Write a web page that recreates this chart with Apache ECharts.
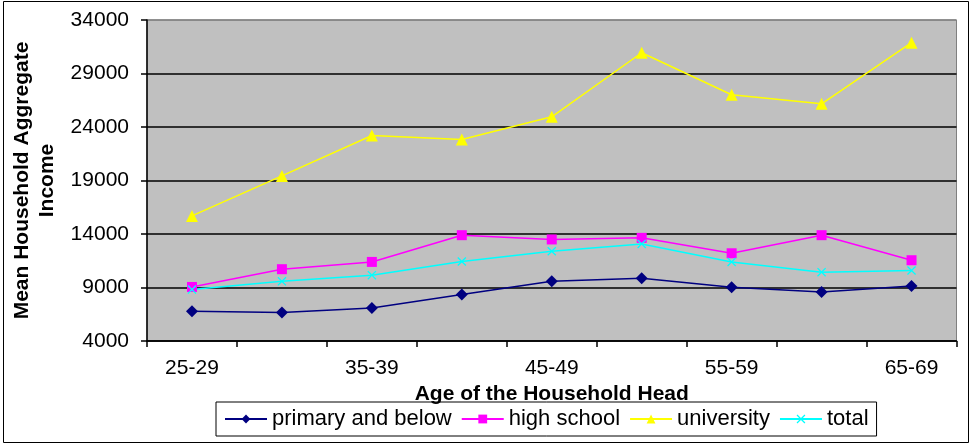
<!DOCTYPE html>
<html>
<head>
<meta charset="utf-8">
<script src="https://cdn.jsdelivr.net/npm/echarts@6/dist/echarts.min.js"></script>
<style>
  html, body { margin: 0; padding: 0; background: #fff; }
  #main { width: 972px; height: 445px; }
</style>
</head>
<body>
<div id="main"></div>
<script>
// age groups of the household head
const ageGroups = ['25-29', '30-34', '35-39', '40-44', '45-49', '50-54', '55-59', '60-64', '65-69'];
const yTicks = [4000, 9000, 14000, 19000, 24000, 29000, 34000];

// mean household aggregate income
const primaryAndBelow = [6780, 6660, 7090, 8340, 9580, 9870, 9020, 8580, 9140];
const highSchool = [9050, 10710, 11390, 13890, 13490, 13640, 12200, 13890, 11550];
const university = [15690, 19430, 23210, 22840, 24950, 30940, 27010, 26170, 31880];
const total = [8810, 9580, 10150, 11430, 12390, 13070, 11390, 10430, 10590];

const font = '"Liberation Sans", Arial, sans-serif';
const crossPath = 'path://M0,1L1,0L5,4L9,0L10,1L6,5L10,9L9,10L5,6L1,10L0,9L4,5Z';

function lineSeries(name, data, color, symbol, size) {
    return {
        name: name,
        type: 'line',
        data: data,
        symbol: symbol,
        symbolSize: size,
        showAllSymbol: true,
        lineStyle: { color: color, width: 1.5 },
        itemStyle: { color: color },
        emphasis: { disabled: true },
        z: 3
    };
}

let myChart = echarts.init(document.getElementById('main'), null, { renderer: 'canvas' });
let option = {
    backgroundColor: '#fff',
    animation: false,
    textStyle: { fontFamily: font },
    graphic: [{
        type: 'rect',
        shape: { x: 3.5, y: 1.5, width: 965, height: 441 },
        style: { fill: null, stroke: '#000', lineWidth: 1 },
        silent: true
    }],
    grid: {
        left: 147,
        right: 15.5,
        top: 20,
        bottom: 104,
        containLabel: false,
        outerBoundsMode: 'none',
        show: true,
        backgroundColor: '#c0c0c0',
        borderColor: '#808080',
        borderWidth: 1
    },
    legend: {
        left: 216,
        top: 402,
        orient: 'horizontal',
        borderColor: '#000',
        borderWidth: 1,
        padding: [6, 8],
        itemGap: 9,
        itemWidth: 42,
        itemHeight: 11,
        textStyle: { fontFamily: font, fontSize: 22, color: '#000' },
        data: ['primary and below', 'high school', 'university', 'total']
    },
    xAxis: {
        type: 'category',
        data: ageGroups,
        boundaryGap: true,
        name: 'Age of the Household Head',
        nameLocation: 'middle',
        nameGap: 38,
        nameTextStyle: { fontFamily: font, fontSize: 21, fontWeight: 'bold', color: '#000' },
        axisLine: { lineStyle: { color: '#000', width: 1.5 } },
        axisTick: { show: true, interval: 0, length: 6, lineStyle: { color: '#000', width: 1.5 } },
        axisLabel: { interval: 1, margin: 17, fontFamily: font, fontSize: 21, color: '#000' },
        splitLine: { show: false }
    },
    yAxis: {
        type: 'value',
        min: 4000,
        max: 34000,
        name: 'Mean Household Aggregate\nIncome',
        nameLocation: 'middle',
        nameRotate: 90,
        nameGap: 87,
        nameTextStyle: { fontFamily: font, fontSize: 21, fontWeight: 'bold', color: '#000', lineHeight: 25 },
        axisLine: { show: true, lineStyle: { color: '#000', width: 1.5 } },
        axisTick: { show: true, customValues: yTicks, length: 6, lineStyle: { color: '#000', width: 1.5 } },
        axisLabel: {
            customValues: yTicks,
            margin: 18,
            fontFamily: font,
            fontSize: 21,
            color: '#000',
            formatter: (v) => String(v)
        },
        splitLine: {
            show: true,
            lineStyle: { color: ['#000', '#000', '#000', '#000', '#000', '#000', '#808080'], width: 1.5 }
        }
    },
    series: [
        lineSeries('primary and below', primaryAndBelow, '#000080', 'diamond', 12),
        lineSeries('high school', highSchool, '#ff00ff', 'rect', 10),
        lineSeries('university', university, '#ffff00', 'triangle', 12),
        lineSeries('total', total, '#00ffff', crossPath, 9)
    ]
};
myChart.setOption(option);
</script>
</body>
</html>
